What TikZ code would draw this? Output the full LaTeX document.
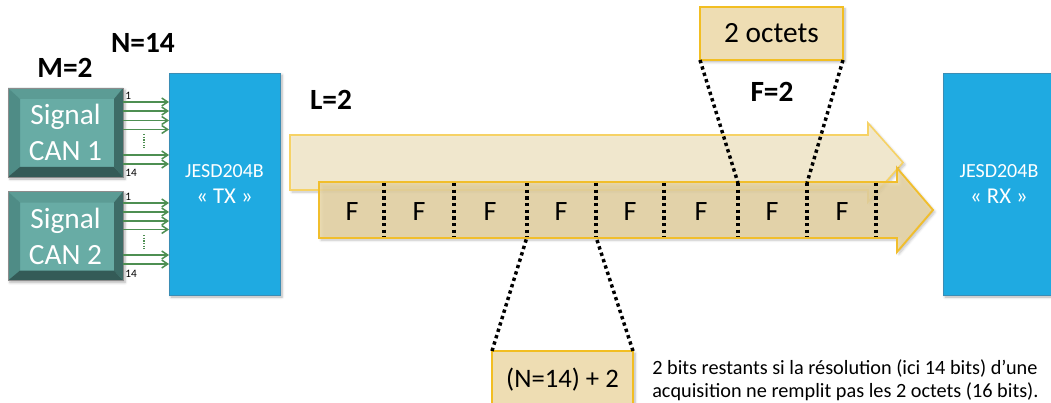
\documentclass[tikz,border=0pt]{standalone}
\usepackage{fontspec}
\setmainfont{Carlito}
\usetikzlibrary{arrows.meta,calc,shadows.blur}
\definecolor{tealface}{HTML}{68ACA5}
\definecolor{bvtopc}{HTML}{5C9C95}
\definecolor{bvleftc}{HTML}{4F8C86}
\definecolor{bvrightc}{HTML}{3D6C67}
\definecolor{bvbotc}{HTML}{345B57}
\definecolor{sigreen}{HTML}{4E8F52}
\definecolor{txblue}{HTML}{1FAAE1}
\definecolor{txedge}{HTML}{3A8DB5}
\definecolor{laneAfill}{HTML}{F2E9CE}
\definecolor{laneAdraw}{HTML}{F6D265}
\definecolor{laneBfill}{HTML}{EAD7A5}
\definecolor{laneBdraw}{HTML}{F1BE2C}
\definecolor{boxfill}{HTML}{EEDDB3}
\definecolor{boxdraw}{HTML}{F2BE22}
\newcommand\canbox[3]{%
  \node[canstyle] (#1) at (65.5,#2) {#3};
  \fill[bvtopc] (#1.north west) -- (#1.north east) -- ($(#1.north east)+(-9,11)$) -- ($(#1.north west)+(12,11)$) -- cycle;
  \fill[bvleftc] (#1.north west) -- ($(#1.north west)+(12,11)$) -- ($(#1.south west)+(12,-10)$) -- (#1.south west) -- cycle;
  \fill[bvrightc] (#1.north east) -- ($(#1.north east)+(-9,11)$) -- ($(#1.south east)+(-9,-10)$) -- (#1.south east) -- cycle;
  \fill[bvbotc] (#1.south west) -- ($(#1.south west)+(12,-10)$) -- ($(#1.south east)+(-9,-10)$) -- (#1.south east) -- cycle;
  \draw[black!45, line width=0.5pt] (#1.north west) rectangle (#1.south east);
}
\begin{document}
\begin{tikzpicture}[x=0.75pt,y=-0.75pt,
  canstyle/.style={rectangle, fill=tealface, minimum width=86.25pt, minimum height=66.75pt,
    inner sep=0pt, outer sep=0pt, text=white, align=center, font=\fontsize{22}{27}\selectfont,
    blur shadow={shadow xshift=1.5pt, shadow yshift=-1.5pt, shadow blur steps=6, shadow opacity=30}},
  jesd/.style={rectangle, fill=txblue, draw=txedge, line width=0.6pt, minimum width=83.25pt,
    minimum height=166.5pt, inner sep=0pt, outer sep=0pt, text=white, align=center,
    font=\fontsize{15}{19.5}\selectfont,
    blur shadow={shadow xshift=1.5pt, shadow yshift=-1.5pt, shadow blur steps=6, shadow opacity=30}},
  sig/.style={sigreen, line width=1.1pt, -{Straight Barb[length=4.5pt,width=6pt,line width=1.1pt]}},
  greendots/.style={sigreen, line width=1pt, dash pattern=on 0.9pt off 1.1pt},
  bitlbl/.style={font=\fontsize{8.5}{10}\selectfont, inner sep=0pt, anchor=west},
  param/.style={font=\bfseries\fontsize{22}{26}\selectfont, inner sep=0pt},
  sepline/.style={black, line width=2.6pt, dash pattern=on 2.5pt off 2.5pt},
  callout/.style={black, line width=2.6pt, dash pattern=on 2.5pt off 2.5pt},
  flbl/.style={font=\fontsize{21}{25}\selectfont, inner sep=0pt},
  ybox/.style={rectangle, fill=boxfill, draw=boxdraw, line width=1.6pt, inner sep=0pt, outer sep=0pt,
    font=\fontsize{22}{26}\selectfont,
    blur shadow={shadow xshift=1.5pt, shadow yshift=-1.5pt, shadow blur steps=6, shadow opacity=30}},
  laneA/.style={fill=laneAfill, draw=laneAdraw, line width=1.2pt, fill opacity=0.95,
    blur shadow={shadow xshift=1.5pt, shadow yshift=-1.5pt, shadow blur steps=6, shadow opacity=25}},
  laneB/.style={fill=laneBfill, draw=laneBdraw, line width=1.4pt, fill opacity=0.82,
    blur shadow={shadow xshift=1.5pt, shadow yshift=-1.5pt, shadow blur steps=6, shadow opacity=25}}
]
\useasboundingbox (0,0) rectangle (1051,403);
\clip (0,0) rectangle (1051,403);

% parameters
\node[param] (m) at (65,68) {M=2};
\node[param] (n) at (143,43) {N=14};
\node[param] (l) at (331,100) {L=2};
\node[param] (f) at (772,92) {F=2};

% transmitter / receiver
\node[jesd] (tx) at (224.5,184) {JESD204B\\{\fontsize{17}{19.5}\selectfont « TX »}};
\node[jesd, minimum width=84pt] (rx) at (999,184) {JESD204B\\{\fontsize{17}{19.5}\selectfont « RX »}};

% converters
\canbox{can1}{132.5}{Signal\\CAN 1}
\canbox{can2}{236}{Signal\\CAN 2}

% bit lines CAN 1
\foreach \y in {102,111,120.5,129.5,155,164}
  \draw[sig] (can1.east |- 0,\y) -- (tx.west |- 0,\y);
\coordinate (d1a) at (144,134);
\coordinate (d1b) at (144,148);
\draw[greendots] (d1a) -- (d1b);
\node[bitlbl] (c1first) at (125,96) {1};
\node[bitlbl] (c1last) at (125,173) {14};

% bit lines CAN 2
\foreach \y in {203,212,221,229.5,255,264}
  \draw[sig] (can2.east |- 0,\y) -- (tx.west |- 0,\y);
\coordinate (d2a) at (144,235);
\coordinate (d2b) at (144,249);
\draw[greendots] (d2a) -- (d2b);
\node[bitlbl] (c2first) at (125,197) {1};
\node[bitlbl] (c2last) at (125,274) {14};

% lanes
\filldraw[laneA] (290,135) -- (868,135) -- (868,123) -- (903,162.5) -- (868,202) -- (868,190) -- (290,190) -- cycle;
\filldraw[laneB] (319,182) -- (897,182) -- (897,168) -- (933,210) -- (897,252) -- (897,238) -- (319,238) -- cycle;

% frame separators
\foreach \x [count=\i] in {384,454,527,596,664,738,807,876} {
  \coordinate (t\i) at (\x,183);
  \coordinate (b\i) at (\x,237);
  \draw[sepline] (t\i) -- (b\i);
}
\foreach \x [count=\i] in {352,419,490,561,630,701,772,842}
  \node[flbl] (f\i) at (\x,212) {F};

% octets box
\node[ybox, minimum width=107.25pt, minimum height=39.75pt] (oct) at (771.5,33.5) {2 octets};
\draw[callout] (oct.south west) -- (t6);
\draw[callout] (oct.south east) -- (t7);

% N+2 box
\node[ybox, minimum width=105.75pt, minimum height=42.75pt, font=\fontsize{20}{24}\selectfont] (nbox) at (562.5,379.5) {(N=14) + 2};
\draw[callout] (nbox.north west) -- (b3);
\draw[callout] (nbox.north east) -- (b4);

% note
\node[anchor=north west, align=left, inner sep=0pt, font=\fontsize{15.2}{17.5}\selectfont] (note) at (652,359)
  {2 bits restants si la résolution (ici 14 bits) d’une\\acquisition ne remplit pas les 2 octets (16 bits).};
\end{tikzpicture}
\end{document}
